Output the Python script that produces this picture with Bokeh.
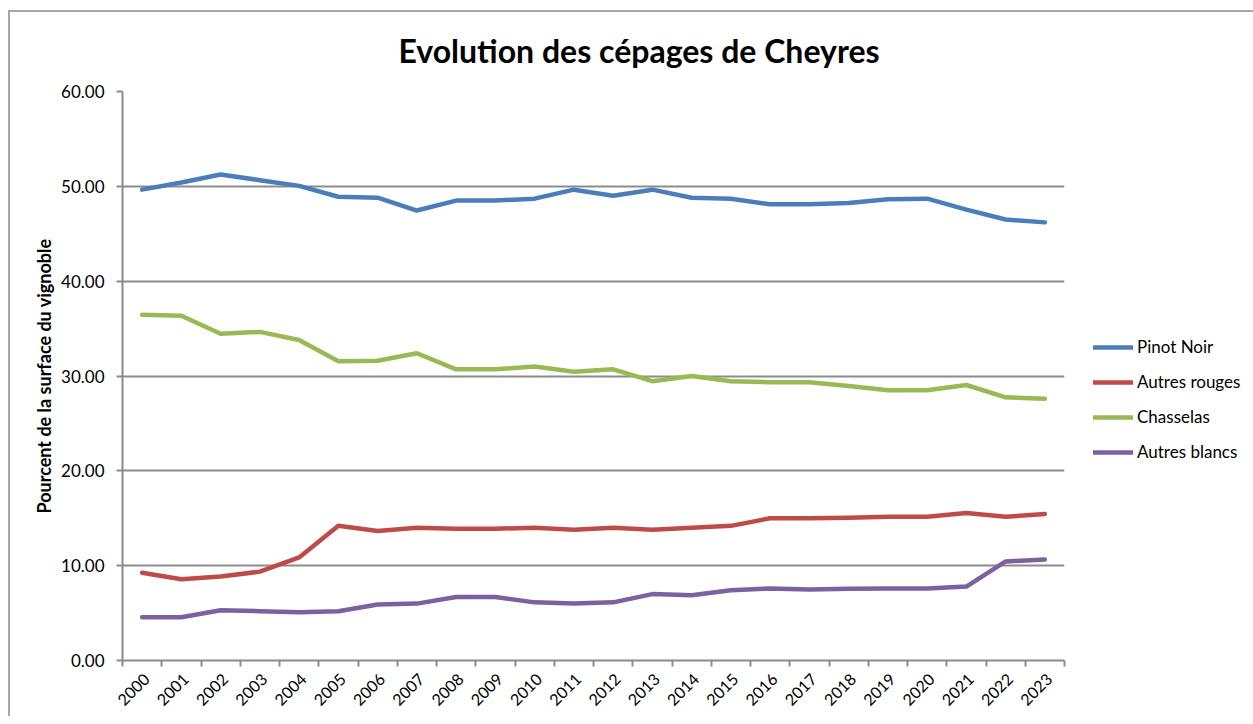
import math
from bokeh.plotting import figure
from bokeh.models import FixedTicker, NumeralTickFormatter, Legend, LegendItem, ColumnDataSource
from bokeh.embed import file_html
from bokeh.resources import INLINE

years = [str(y) for y in range(2000, 2024)]
pinot_noir = [49.65, 50.4, 51.25, 50.65, 50.05, 48.9, 48.8, 47.45, 48.5, 48.5, 48.7, 49.65,
              49.0, 49.65, 48.8, 48.7, 48.1, 48.1, 48.25, 48.65, 48.7, 47.55, 46.5, 46.2]
autres_rouges = [9.25, 8.57, 8.85, 9.37, 10.87, 14.2, 13.65, 14.0, 13.9, 13.9, 14.0, 13.8,
                 14.0, 13.8, 14.0, 14.2, 15.0, 15.0, 15.05, 15.15, 15.15, 15.55, 15.15, 15.45]
chasselas = [36.45, 36.35, 34.45, 34.65, 33.8, 31.55, 31.6, 32.4, 30.7, 30.7, 31.0, 30.45,
             30.7, 29.45, 30.0, 29.45, 29.35, 29.35, 28.95, 28.5, 28.5, 29.05, 27.75, 27.6]
autres_blancs = [4.56, 4.56, 5.3, 5.2, 5.1, 5.2, 5.9, 6.0, 6.7, 6.7, 6.13, 6.0,
                 6.13, 7.0, 6.88, 7.4, 7.6, 7.48, 7.56, 7.6, 7.6, 7.8, 10.45, 10.65]

series_names = ["Pinot Noir", "Autres rouges", "Chasselas", "Autres blancs"]
series_values = [pinot_noir, autres_rouges, chasselas, autres_blancs]
colors = ["#4A7EBB", "#BE4B48", "#98B954", "#7D60A0"]

FONT = "Lato"
GREY = "#8c8c8c"

xpos = [i + 0.5 for i in range(len(years))]
label_pos = [i + 0.62 for i in range(len(years))]

p = figure(frame_width=942, frame_height=569, output_backend="svg", toolbar_location=None,
           x_range=(0, len(years)), y_range=(0, 60),
           min_border_left=122, min_border_right=0, min_border_top=91, min_border_bottom=56)
p.styles = {
    "background-color": "white",
    "background-image": "linear-gradient(#a6a6a6, #a6a6a6), linear-gradient(#a6a6a6, #a6a6a6)",
    "background-size": "100% 2px, 2px 100%",
    "background-position": "8px 10px, 8px 10px",
    "background-repeat": "no-repeat",
}

p.title.text = "Evolution des cépages de Cheyres"
p.title.text_font = FONT
p.title.text_font_size = "32px"
p.title.text_font_style = "bold"
p.title.text_color = "#000000"
p.title.align = "left"
p.title.offset = 276
p.title.standoff = 44

p.outline_line_color = None
p.background_fill_color = "white"
p.border_fill_color = None

# x axis
xa = p.xaxis[0]
xa.ticker = FixedTicker(ticks=label_pos, minor_ticks=list(range(len(years) + 1)))
xa.major_label_overrides = {x: y for x, y in zip(label_pos, years)}
xa.major_label_orientation = math.pi / 4
xa.major_tick_line_color = None
xa.minor_tick_out = 6
xa.minor_tick_in = 0
xa.minor_tick_line_color = GREY
xa.minor_tick_line_width = 2
xa.axis_line_color = GREY
xa.axis_line_width = 2
xa.major_label_text_font = FONT
xa.major_label_text_font_size = "16px"
xa.major_label_text_color = "#000000"
xa.major_label_standoff = 10

# y axis
ya = p.yaxis[0]
ya.ticker = FixedTicker(ticks=[0, 10, 20, 30, 40, 50, 60])
ya.formatter = NumeralTickFormatter(format="0.00")
ya.axis_label = "Pourcent de la surface du vignoble"
ya.axis_label_text_font = FONT
ya.axis_label_text_font_size = "18px"
ya.axis_label_text_font_style = "bold"
ya.axis_label_text_color = "#000000"
ya.axis_label_standoff = 3
ya.major_label_text_font = FONT
ya.major_label_text_font_size = "17px"
ya.major_label_text_color = "#000000"
ya.major_tick_out = 6
ya.major_tick_in = 0
ya.major_tick_line_color = GREY
ya.major_tick_line_width = 2
ya.minor_tick_line_color = None
ya.axis_line_color = GREY
ya.axis_line_width = 2
ya.major_label_standoff = 12

p.xgrid.grid_line_color = None
p.ygrid.grid_line_color = GREY
p.ygrid.grid_line_width = 2

items = []
for name, vals, col in zip(series_names, series_values, colors):
    src = ColumnDataSource(dict(x=xpos, y=vals))
    r = p.line("x", "y", source=src, line_color=col, line_width=4.5, line_join="round", line_cap="round")
    items.append(LegendItem(label=name, renderers=[r]))

legend = Legend(items=items, location=(29, 198), orientation="vertical",
                glyph_width=40, glyph_height=20, label_height=20, spacing=14,
                label_standoff=4, padding=0, margin=0,
                label_text_font=FONT, label_text_font_size="17px", label_text_color="#000000",
                border_line_color=None, background_fill_alpha=0)
p.add_layout(legend, "right")

open("out.html", "w").write(file_html(p, INLINE))
